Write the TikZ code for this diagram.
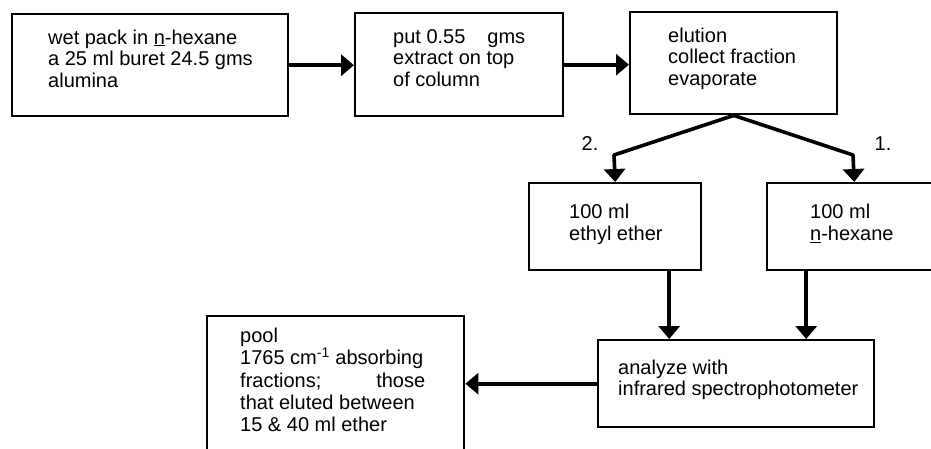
\documentclass[tikz,border=0pt]{standalone}
\usepackage{fontspec}
\setmainfont{Liberation Sans}
\usetikzlibrary{arrows.meta}
\begin{document}
\begin{tikzpicture}[x=1pt,y=-1pt,
  box/.style={draw,line width=2.4pt,inner sep=0pt,anchor=north west},
  txt/.style={anchor=north west,inner sep=0pt,align=left},
  fs/.style={font=\fontsize{20}{#1}\selectfont},
  arr/.style={line width=3.6pt,line join=round,-{Triangle[length=13pt,width=21pt]}}]
\useasboundingbox (0,0) rectangle (931,448);
\clip (0,0) rectangle (931,448);
% boxes
\node[box,minimum width=276pt,minimum height=102pt] (b1) at (11,13) {};
\node[box,minimum width=208pt,minimum height=103pt] (b2) at (354,12) {};
\node[box,minimum width=207pt,minimum height=102pt] (b3) at (629,11) {};
\node[box,minimum width=172pt,minimum height=87pt] (b4) at (528,182) {};
\node[box,minimum width=174pt,minimum height=87pt] (b5) at (766,182) {};
\node[box,minimum width=276pt,minimum height=87pt] (b6) at (597,339) {};
\node[box,minimum width=257pt,minimum height=160pt] (b7) at (206,315) {};
% texts
\node[txt,fs=21.7] (t1) at (48,29.5) {wet pack in \underline{n}-hexane\\a 25 ml buret 24.5 gms\\alumina};
\node[txt,fs=21.7] (t2) at (393,29) {put 0.55\hspace{22pt}gms\\extract on top\\of column};
\node[txt,fs=21.5] (t3) at (668,27.5) {elution\\collect fraction\\evaporate};
\node[txt,fs=22.5] (t4) at (569,203.5) {100 ml\\ethyl ether};
\node[txt,fs=22.5] (t5) at (810,203.5) {100 ml\\\underline{n}-hexane};
\node[txt,fs=21] (t6) at (618,359.5) {analyze with\\infrared spectrophotometer};
\node[txt,fs=22.4] (t7) at (240,327.5) {pool\\1765 cm\textsuperscript{-1} absorbing\\\makebox[185pt][l]{fractions;\hfill those}\\that eluted between\\15 \& 40 ml ether};
\node[fs=22,inner sep=0pt] (l2) at (590,144) {2.};
\node[fs=22,inner sep=0pt] (l1) at (883,144) {1.};
% connectors
\coordinate (k2) at (614,155);
\coordinate (k1) at (853,155);
\draw[arr] (b1.east) -- (b1.east -| b2.west);
\draw[arr] (b2.east) -- (b2.east -| b3.west);
\draw[arr] (b3.south) -- (k2) -- (b4.north);
\draw[arr] (b3.south) -- (k1) -- (b5.north);
\draw[arr] ([xshift=54pt]b4.south) -- ([xshift=54pt]b4.south |- b6.north);
\draw[arr] ([xshift=-48pt]b5.south) -- ([xshift=-48pt]b5.south |- b6.north);
\draw[arr] (b6.west) -- (b6.west -| b7.east);
\end{tikzpicture}
\end{document}
